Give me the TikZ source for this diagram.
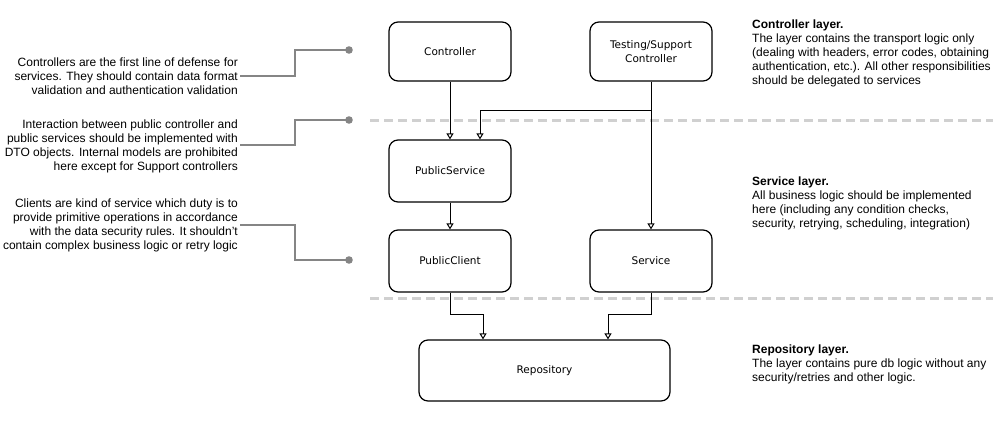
\documentclass[tikz,border=0pt]{standalone}
\usepackage{fontspec}
\setmainfont{Liberation Sans}
\newfontfamily\boxfont{DejaVu Sans}
\usetikzlibrary{arrows.meta,calc}
\definecolor{layergray}{HTML}{D0D0D0}
\definecolor{notegray}{HTML}{858585}
\tikzset{
  comp/.style={draw=black, line width=1.2pt, rounded corners=9pt, fill=white,
    minimum width=122pt, inner sep=2pt, align=center,
    font=\boxfont\fontsize{10.5}{14}\selectfont},
  arr/.style={draw=black, line width=1pt, -{Triangle[open,length=6pt,width=7pt]}},
  layerline/.style={draw=layergray, line width=3pt, dash pattern=on 9pt off 5pt},
  notetext/.style={inner sep=0pt, align=right, anchor=east,
    font=\fontsize{12}{14}\selectfont},
  layertext/.style={inner sep=0pt, align=left, anchor=north west,
    font=\fontsize{12}{14}\selectfont},
  noteline/.style={draw=notegray, line width=2pt},
  notedot/.style={fill=notegray, draw=none},
}
\begin{document}
\begin{tikzpicture}[x=1pt,y=-1pt]
\useasboundingbox (0,0) rectangle (993,421);
% layer separators
\draw[layerline] (370,120) -- (993,120);
\draw[layerline] (370,298) -- (993,298);

% components
\node[comp, minimum height=59pt] (ctrl) at (450,51.5) {Controller};
\node[comp, minimum height=59pt] (test) at (651,51.5) {Testing/Support\\Controller};
\node[comp, minimum height=62pt] (psvc) at (450,171) {PublicService};
\node[comp, minimum height=62pt] (pcli) at (450,261) {PublicClient};
\node[comp, minimum height=62pt] (svc) at (651,261) {Service};
\node[comp, minimum height=61pt, minimum width=251pt] (repo) at (544.5,370.5) {Repository};

% connectors
\draw[arr] (ctrl.south) -- (psvc.north);
\draw[arr] (test.south) -- ++(0,29) -| ([xshift=30pt]psvc.north);
\draw[arr] (test.south) -- (svc.north);
\draw[arr] (psvc.south) -- (pcli.north);
\draw[arr] (pcli.south) -- ++(0,22) -| ([xshift=-61.5pt]repo.north);
\draw[arr] (svc.south) -- ++(0,22) -| ([xshift=63.5pt]repo.north);

% left notes
\node[notetext] (n1) at (238,76) {Controllers are the first line of defense for\\services. They should contain data format\\validation and authentication validation\ };
\node[notetext] (n2) at (238,146) {Interaction between public controller and\\public services should be implemented with\\DTO objects. Internal models are prohibited\\here except for Support controllers};
\node[notetext] (n3) at (238,225) {Clients are kind of service which duty is to\\provide primitive operations in accordance\\with the data security rules. It shouldn't\\contain complex business logic or retry logic};

\coordinate (d1) at (349,50);
\coordinate (d2) at (349,120);
\coordinate (d3) at (349,260);
\draw[noteline] ([xshift=2pt]n1.east) -- ++(55,0) |- (d1);
\draw[noteline] ([xshift=2pt]n2.east |- 0,145) -- ++(55,0) |- (d2);
\draw[noteline] ([xshift=2pt]n3.east) -- ++(55,0) |- (d3);
\fill[notedot] (d1) circle (3.8pt);
\fill[notedot] (d2) circle (3.8pt);
\fill[notedot] (d3) circle (3.8pt);

% right layer descriptions
\node[layertext] (l1) at (752,20) {\textbf{Controller layer.}\\The layer contains the transport logic only\\(dealing with headers, error codes, obtaining\\authentication, etc.). All other responsibilities\\should be delegated to services};
\node[layertext] (l2) at (752,177) {\textbf{Service layer.}\\All business logic should be implemented\\here (including any condition checks,\\security, retrying, scheduling, integration)};
\node[layertext] (l3) at (752,345) {\textbf{Repository layer.}\\The layer contains pure db logic without any\\security/retries and other logic.};
\end{tikzpicture}
\end{document}
